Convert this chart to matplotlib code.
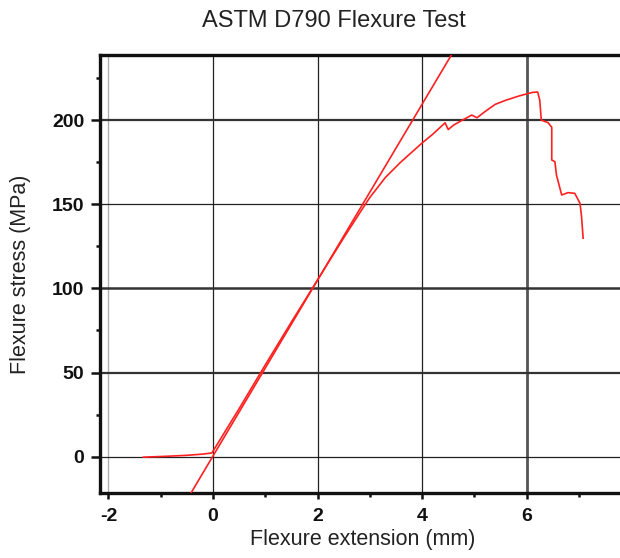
import matplotlib
matplotlib.use("Agg")
import matplotlib.pyplot as plt
from matplotlib.ticker import MultipleLocator

# ---- data ----
test_x = [-1.33, -0.9, -0.5, -0.2, -0.02, 0.5, 1.0, 1.5, 2.0, 2.5, 2.8, 3.0, 3.3, 3.59,
          4.0, 4.2, 4.44, 4.5, 4.6, 4.8, 4.95, 5.05, 5.2, 5.4, 5.6, 5.86, 6.05, 6.12,
          6.21, 6.25, 6.28, 6.41, 6.48, 6.48, 6.54, 6.57, 6.67, 6.79, 6.92, 7.02,
          7.05, 7.08]
test_y = [-0.3, 0.2, 0.8, 1.5, 2.2, 28.5, 54.5, 80.0, 105.0, 130.0, 144.5, 154.0,
          166.0, 175.0, 186.4, 191.5, 198.4, 194.4, 197.0, 200.5, 203.0, 201.4, 205.0,
          209.4, 211.8, 214.4, 216.0, 216.5, 216.7, 212.0, 200.0, 198.5, 195.7, 176.3,
          175.3, 167.4, 155.5, 156.9, 156.5, 150.6, 142.6, 129.8]

tangent_x = [-0.42, 4.56]
tangent_y = [-21.6, 238.7]

x_major = [-2, 0, 2, 4, 6]
y_major = [0, 50, 100, 150, 200]

title = "ASTM D790 Flexure Test"
xlabel = "Flexure extension (mm)"
ylabel = "Flexure stress (MPa)"

plt.rcParams['font.family'] = ['Liberation Sans', 'DejaVu Sans']
plt.rcParams['axes.unicode_minus'] = False

fig = plt.figure(figsize=(6.2, 5.58), dpi=100)
ax = fig.add_axes([99.5 / 620, 1 - 493 / 558, 526.5 / 620, (493 - 55) / 558])

ax.set_xlim(-2.17, 7.90)
ax.set_ylim(-21.6, 238.7)

# grid lines (raster-like varying weights)
vgrid_style = {-2: ('#b0b0b0', 1.0), 0: ('#222222', 0.9), 2: ('#222222', 0.9),
               4: ('#222222', 0.9), 6: ('#555555', 2.0)}
hgrid_style = {0: ('#222222', 0.9), 50: ('#333333', 1.6), 100: ('#333333', 1.8),
               150: ('#222222', 0.9), 200: ('#333333', 1.6)}
for v in x_major:
    c, w = vgrid_style[v]
    ax.axvline(v, color=c, lw=w, zorder=1)
for v in y_major:
    c, w = hgrid_style[v]
    ax.axhline(v, color=c, lw=w, zorder=1)

ax.plot(tangent_x, tangent_y, color='#ff2020', lw=1.2, zorder=3)
ax.plot(test_x, test_y, color='#ff2020', lw=1.2, zorder=3)

ax.set_xticks(x_major)
ax.set_yticks(y_major)
ax.xaxis.set_minor_locator(MultipleLocator(1))
ax.yaxis.set_minor_locator(MultipleLocator(25))
ax.tick_params(axis='both', which='major', direction='out', width=1.8,
               labelsize=14, colors='#111111')
ax.tick_params(axis='x', which='major', length=4, pad=6.5)
ax.tick_params(axis='y', which='major', length=6.5, pad=4.5)
ax.tick_params(axis='both', which='minor', direction='out', width=1.8, length=3,
               colors='#111111')
for lab in ax.get_xticklabels() + ax.get_yticklabels():
    lab.set_fontweight('bold')

for side in ['left', 'bottom', 'top']:
    ax.spines[side].set_linewidth(2.4)
    ax.spines[side].set_color('#111111')
ax.spines['right'].set_visible(False)

ax.set_xlabel(xlabel, fontsize=15.5, color='#222222', labelpad=3)
ax.set_ylabel(ylabel, fontsize=15.5, color='#222222')
ax.yaxis.label.set_va('center')
ax.yaxis.set_label_coords(-(99.5 - 21) / 526.5, 0.5)
fig.text(202 / 620, 1 - 21 / 558, title, ha='left', va='center', fontsize=17,
         color='#222222')

fig.savefig("out.png", dpi=100)
